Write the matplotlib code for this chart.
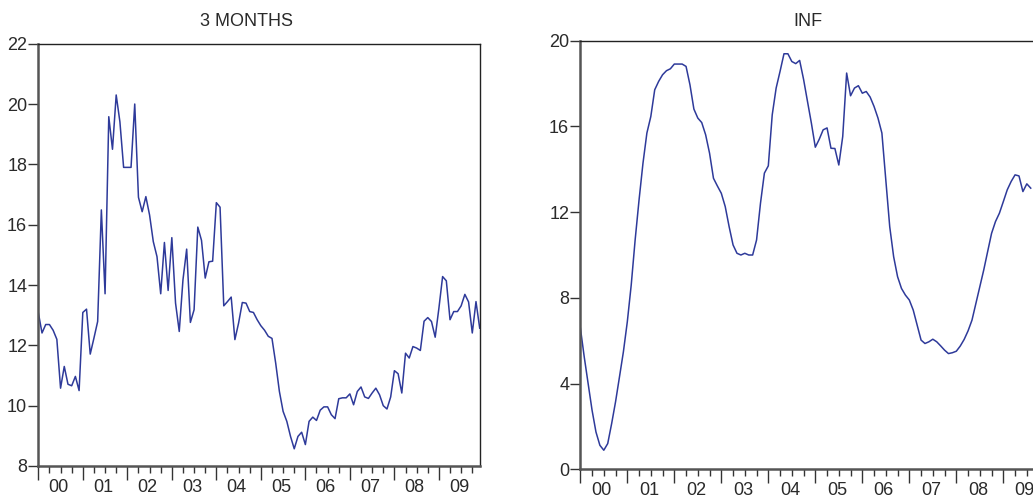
import matplotlib
matplotlib.use("Agg")
import matplotlib.pyplot as plt
import matplotlib.transforms as mtransforms
import numpy as np

# Monthly observations, Jan 2000 onward
three_months = [
    13.09, 12.41, 12.69, 12.69, 12.50, 12.20, 10.58, 11.30, 10.71, 10.66, 10.97, 10.50,
    13.09, 13.20, 11.71, 12.24, 12.79, 16.49, 13.71, 19.58, 18.50, 20.30, 19.41, 17.90,
    17.90, 17.90, 20.00, 16.91, 16.43, 16.93, 16.32, 15.44, 14.94, 13.71, 15.41, 13.82,
    15.57, 13.40, 12.46, 14.17, 15.19, 12.76, 13.18, 15.92, 15.48, 14.23, 14.77, 14.79,
    16.73, 16.58, 13.31, 13.45, 13.60, 12.19, 12.74, 13.42, 13.40, 13.12, 13.09, 12.85,
    12.65, 12.50, 12.30, 12.23, 11.41, 10.47, 9.81, 9.48, 8.98, 8.57, 8.98, 9.12,
    8.71, 9.48, 9.62, 9.51, 9.85, 9.96, 9.96, 9.70, 9.57, 10.23, 10.26, 10.26,
    10.39, 10.03, 10.47, 10.62, 10.29, 10.24, 10.42, 10.58, 10.36, 10.00, 9.89, 10.29,
    11.16, 11.06, 10.42, 11.74, 11.58, 11.96, 11.91, 11.83, 12.80, 12.92, 12.79, 12.27,
    13.23, 14.28, 14.14, 12.85, 13.12, 13.12, 13.31, 13.69, 13.44, 12.41, 13.45, 12.57,
]
inf = [
    6.62, 5.25, 4.00, 2.76, 1.74, 1.12, 0.89, 1.20, 2.13, 3.15, 4.31, 5.48,
    6.88, 8.60, 10.70, 12.57, 14.28, 15.69, 16.46, 17.71, 18.10, 18.41, 18.60, 18.69,
    18.91, 18.91, 18.91, 18.80, 17.94, 16.81, 16.39, 16.18, 15.61, 14.75, 13.58, 13.22,
    12.88, 12.26, 11.32, 10.47, 10.08, 10.00, 10.08, 10.00, 10.00, 10.70, 12.41, 13.82,
    14.16, 16.54, 17.79, 18.57, 19.39, 19.39, 19.03, 18.93, 19.08, 18.20, 17.17, 16.15,
    15.03, 15.40, 15.84, 15.93, 14.98, 14.97, 14.20, 15.53, 18.49, 17.43, 17.79, 17.90,
    17.55, 17.63, 17.37, 16.93, 16.39, 15.69, 13.50, 11.32, 9.92, 8.99, 8.44, 8.13,
    7.90, 7.43, 6.73, 6.03, 5.87, 5.95, 6.07, 5.95, 5.76, 5.56, 5.40, 5.44,
    5.51, 5.75, 6.06, 6.46, 6.96, 7.74, 8.52, 9.30, 10.16, 11.01, 11.56, 11.95,
    12.49, 13.04, 13.43, 13.74, 13.69, 12.96, 13.32, 13.12,
]
year_labels = ["00", "01", "02", "03", "04", "05", "06", "07", "08", "09"]
n_months = 120

left_ticks = [8, 10, 12, 14, 16, 18, 20, 22]
right_ticks = [0, 4, 8, 12, 16, 20]

plt.rcParams["font.family"] = ["Liberation Sans", "DejaVu Sans"]

W, H = 1033, 499
fig = plt.figure(figsize=(W / 100, H / 100), dpi=100)

line_color = "#2e3a9a"
text_color = "#2a2a2a"


def style_axes(ax, yticks, ylim):
    ax.set_xlim(0, n_months - 1)
    ax.set_ylim(*ylim)
    ax.set_yticks(yticks)
    ax.set_yticklabels([str(t) for t in yticks])
    ax.set_xticks(np.arange(0, n_months, 12))
    ax.set_xticklabels([])
    ax.set_xticks(np.arange(0, n_months, 3), minor=True)
    ax.tick_params(axis="x", which="major", length=10, width=1.0, color="#333333", direction="out")
    ax.tick_params(axis="x", which="minor", length=5, width=1.0, color="#333333", direction="out")
    ax.tick_params(axis="y", which="major", length=7, width=1.0, color="#333333",
                   direction="out", labelsize=13, labelcolor=text_color, pad=1)
    for s in ("left", "bottom"):
        ax.spines[s].set_linewidth(1.8)
        ax.spines[s].set_color("#555555")
    for s in ("top", "right"):
        ax.spines[s].set_linewidth(1.0)
        ax.spines[s].set_color("#222222")
    trans = mtransforms.blended_transform_factory(ax.transData, ax.transAxes)
    for k, lab in enumerate(year_labels):
        ax.text(12 * k + 5.5, -0.03, lab, transform=trans, ha="center", va="top",
                fontsize=13, color=text_color, clip_on=False)


# Left panel
ax1 = fig.add_axes([38.3 / W, (H - 466) / H, (479.7 - 38.3) / W, (466 - 43.7) / H])
ax1.plot(np.arange(len(three_months)), three_months, color=line_color, lw=1.1)
style_axes(ax1, left_ticks, (8, 22))

# Right panel (extends beyond the right edge as in the reference)
ax2 = fig.add_axes([580.3 / W, (H - 469.3) / H, (1046.4 - 580.3) / W, (469.3 - 40.7) / H])
ax2.plot(np.arange(len(inf)), inf, color=line_color, lw=1.1)
style_axes(ax2, right_ticks, (0, 20))

fig.text(246 / W, 1 - 22 / H, "3 MONTHS", ha="center", va="center", fontsize=13, color=text_color)
fig.text(808 / W, 1 - 22 / H, "INF", ha="center", va="center", fontsize=13, color=text_color)

fig.savefig("out.png", dpi=100)
